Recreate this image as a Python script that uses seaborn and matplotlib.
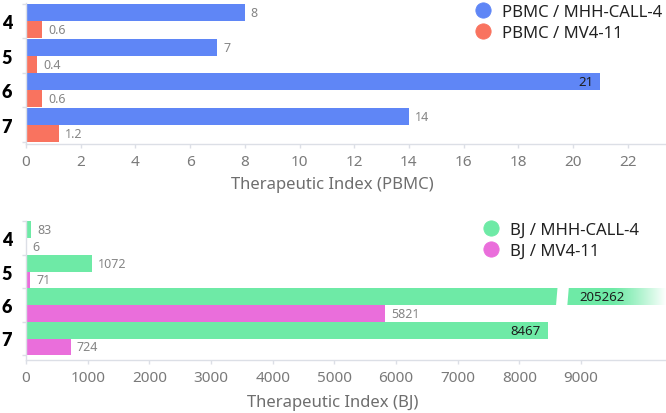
import numpy as np
import pandas as pd
import matplotlib
matplotlib.use("Agg")
import matplotlib.pyplot as plt
import seaborn as sns
from matplotlib.lines import Line2D
from matplotlib.patches import Polygon

# ---------------- data ----------------
compounds = ["4", "5", "6", "7"]

pbmc_series = ["PBMC / MHH-CALL-4", "PBMC / MV4-11"]
pbmc_mhh = [8, 7, 21, 14]
pbmc_mv4 = [0.6, 0.4, 0.6, 1.2]
pbmc_ticks = [0, 2, 4, 6, 8, 10, 12, 14, 16, 18, 20, 22]

bj_series = ["BJ / MHH-CALL-4", "BJ / MV4-11"]
bj_mhh = [83, 1072, 205262, 8467]
bj_mv4 = [6, 71, 5821, 724]
bj_ticks = [0, 1000, 2000, 3000, 4000, 5000, 6000, 7000, 8000, 9000]

pbmc_colors = ["#5F86F6", "#F9735F"]
bj_colors = ["#6EEAA6", "#EA6EDB"]

# ---------------- style ----------------
sns.set_theme(style="white")
plt.rcParams["font.family"] = ["Noto Sans", "DejaVu Sans"]

W, H = 666, 414
fig = plt.figure(figsize=(W / 100, H / 100), dpi=100)


def px_axes(l, t, r, b):
    return fig.add_axes([l / W, 1 - b / H, (r - l) / W, (b - t) / H])


def draw(ax, series, v1, v2, colors, xmax, ticks, xlabel,
         top_px, bot_px, c0_px, spacing, label_y_px, legend_xy):
    df = pd.DataFrame({
        "compound": compounds * 2,
        "series": [series[0]] * len(compounds) + [series[1]] * len(compounds),
        "value": list(v1) + list(v2),
    })
    sns.barplot(data=df, y="compound", x="value", hue="series",
                hue_order=series, palette=colors, orient="h", width=0.99,
                saturation=1, legend=False, ax=ax, linewidth=0,
                errorbar=None)
    ax.set_xlim(0, xmax)
    ylo = (bot_px - c0_px) / spacing
    yhi = (top_px - c0_px) / spacing
    ax.set_ylim(ylo, yhi)

    # spines / ticks
    for s in ["top", "right"]:
        ax.spines[s].set_visible(False)
    for s in ["left", "bottom"]:
        ax.spines[s].set_color("#DCDFE6")
        ax.spines[s].set_linewidth(1)
    ax.set_xticks(ticks)
    ax.set_xticklabels([f"{t}" for t in ticks])
    ax.tick_params(axis="x", direction="out", length=3, width=1,
                   color="#DCDFE6", labelcolor="#7A7A7A", labelsize=11,
                   pad=4, bottom=True)
    ax.set_yticks(range(len(compounds)))
    ax.set_yticklabels(compounds)
    ax.tick_params(axis="y", length=0, pad=10, left=False)
    for lab in ax.get_yticklabels():
        lab.set_fontfamily(["Lato", "DejaVu Sans"])
        lab.set_fontweight("heavy")
        lab.set_fontsize(13)
        lab.set_color("black")
    ax.set_yticks(np.arange(-0.5, len(compounds)), minor=True)
    ax.tick_params(axis="y", which="minor", direction="out", length=3,
                   width=1, color="#DCDFE6", left=True)
    ax.set_ylabel("")

    # x label centred on the figure
    ax.set_xlabel(xlabel, fontsize=12, color="#6E6E6E")
    lx = (332.5 - 26) / 640
    ly = -(label_y_px - bot_px) / (bot_px - top_px)
    ax.xaxis.set_label_coords(lx, ly)
    ax.xaxis.label.set_va("center")

    # value labels
    px_per_unit = 640 / xmax
    for p in ax.patches:
        v = p.get_width()
        yc = p.get_y() + p.get_height() / 2
        txt = f"{v:g}"
        if v > xmax:
            ax.text((602 - 26) / 640, yc, txt,
                    transform=ax.get_yaxis_transform(), ha="center",
                    va="center", fontsize=9.5, color="#1E1E1E", zorder=6)
        elif v / xmax > 0.8:
            ax.text(v - 7 / px_per_unit, yc, txt, ha="right", va="center",
                    fontsize=9.5, color="#1E1E1E", zorder=6)
        else:
            ax.text(v + 6 / px_per_unit, yc, txt, ha="left", va="center",
                    fontsize=9, color="#858585", zorder=6)

    # legend
    handles = [Line2D([], [], ls="", marker="o", markersize=11,
                      markerfacecolor=c, markeredgecolor=c,
                      markeredgewidth=0.6) for c in colors]
    ax.legend(handles, series, loc="upper left",
              bbox_to_anchor=(legend_xy[0] / W, 1 - legend_xy[1] / H),
              bbox_transform=fig.transFigure, frameon=False, borderpad=0,
              borderaxespad=0, handlelength=1.0, handletextpad=0.6,
              labelspacing=0.3, fontsize=12, labelcolor="#222222")
    return px_per_unit


ax1 = px_axes(26, 4, 666, 145)
draw(ax1, pbmc_series, pbmc_mhh, pbmc_mv4, pbmc_colors, 23.4, pbmc_ticks,
     "Therapeutic Index (PBMC)", 4, 145, 22.2, 34.5, 185, (475, 5))

ax2 = px_axes(26, 222, 666, 361)
bj_xmax = 10380
draw(ax2, bj_series, bj_mhh, bj_mv4, bj_colors, bj_xmax, bj_ticks,
     "Therapeutic Index (BJ)", 222, 361, 239.0, 33.5, 403, (483, 223))

# broken-axis decoration for the off-scale bar
big = max(ax2.patches, key=lambda p: p.get_width())
y0 = big.get_y() - 0.02
y1 = big.get_y() + big.get_height() + 0.02


def dx(px):
    return bj_xmax * (px - 26) / 640


gap = Polygon([(dx(557.5), y0), (dx(568.8), y0), (dx(567.3), y1), (dx(556.0), y1)],
              closed=True, facecolor="white", edgecolor="none", zorder=4)
ax2.add_patch(gap)
ramp = np.linspace(0, 1, 200) ** 1.2
grad = np.ones((2, 200, 4))
grad[:, :, 3] = ramp
ax2.imshow(grad, extent=(dx(612), bj_xmax, y1, y0), aspect="auto",
           interpolation="bilinear", zorder=5)
ax2.set_xlim(0, bj_xmax)
ax2.set_ylim((361 - 239.0) / 33.5, (222 - 239.0) / 33.5)

fig.savefig("out.png", dpi=100, facecolor="white")
